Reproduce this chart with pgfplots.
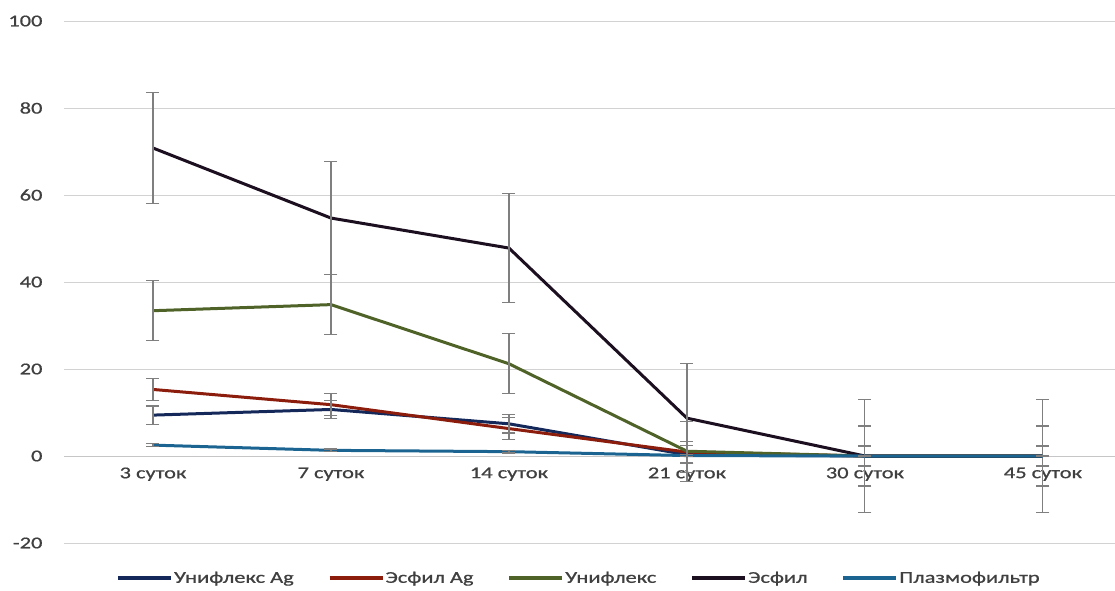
\documentclass[border=0pt]{standalone}
\usepackage{pgfplots}
\pgfplotsset{compat=1.18}
\usepackage{pgfplotstable}
\usepackage{fontspec}
\setmainfont{Carlito}[FakeStretch=1.36, FakeBold=0.8]
\definecolor{cUAg}{HTML}{14285A}
\definecolor{cEAg}{HTML}{8C1C0C}
\definecolor{cU}{HTML}{4F6228}
\definecolor{cE}{HTML}{1C0F1F}
\definecolor{cP}{HTML}{1B6491}
\definecolor{txt}{HTML}{404040}
\definecolor{errc}{HTML}{7F7F7F}

\pgfplotstableread{
x y e
0 9.4 2.1
1 10.7 2.1
2 7.4 2.1
3 0.3 2.1
4 0 2.1
5 0 2.1
}\tUAg
\pgfplotstableread{
x y e
0 15.3 2.5
1 11.8 2.5
2 6.3 2.5
3 0.9 2.5
4 0 2.5
5 0 2.5
}\tEAg
\pgfplotstableread{
x y e
0 33.4 6.9
1 34.8 6.9
2 21.2 6.9
3 1.1 6.9
4 0 6.9
5 0 6.9
}\tU
\pgfplotstableread{
x y e
0 70.8 12.8
1 54.7 13.0
2 47.8 12.6
3 8.7 12.5
4 0 12.9
5 0 12.9
}\tE
\pgfplotstableread{
x y e
0 2.5 0.3
1 1.3 0.3
2 1.0 0.3
3 0.1 0.2
4 0 0.2
5 0 0.2
}\tP

\pgfplotsset{
  ser/.style={color=#1, line width=3pt, mark=none,
    error bars/.cd, y dir=both, y explicit,
    error bar style={color=errc, line width=1.1pt},
    error mark options={color=errc, line width=1.1pt, mark size=6.5pt, rotate=90}},
}

\begin{document}
\begin{tikzpicture}
\begin{axis}[
  scale only axis,
  width=1051pt, height=522pt,
  xmin=-0.5, xmax=5.405,
  ymin=-20, ymax=100,
  ytick={-20,0,20,40,60,80,100},
  xtick={0,1,2,3,4,5},
  xticklabels={3 суток,7 суток,14 суток,21 суток,30 суток,45 суток},
  axis x line*=middle,
  axis y line*=left,
  hide obscured x ticks=false,
  hide obscured y ticks=false,
  x axis line style={draw=gray!45, line width=0.8pt, -},
  y axis line style={draw=none},
  major tick length=0pt,
  ymajorgrids,
  major grid style={draw=gray!35, line width=0.8pt},
  /pgf/number format/assume math mode=true,
  tick label style={font=\fontsize{16.5}{19}\selectfont, text=txt},
  yticklabel style={anchor=east, xshift=-18pt},
  xticklabel style={anchor=north, yshift=-8pt},
  clip=false,
  legend columns=5,
  legend style={at={(0.5,0)}, anchor=center, yshift=-35pt, xshift=-11pt,
    draw=none, fill=none, font=\fontsize{16.5}{19}\selectfont, text=txt,
    nodes={inner sep=1pt},
    /tikz/every even column/.append style={column sep=33pt}},
  legend image code/.code={\draw[#1, line width=3.8pt] (0pt,0pt) -- (53pt,0pt);},
]
\addplot[ser=cUAg] table[x=x, y=y, y error=e] {\tUAg};
\addlegendentry{Унифлекс Ag}
\addplot[ser=cEAg] table[x=x, y=y, y error=e] {\tEAg};
\addlegendentry{Эсфил Ag}
\addplot[ser=cU] table[x=x, y=y, y error=e] {\tU};
\addlegendentry{Унифлекс}
\addplot[ser=cE] table[x=x, y=y, y error=e] {\tE};
\addlegendentry{Эсфил}
\addplot[ser=cP] table[x=x, y=y, y error=e] {\tP};
\addlegendentry{Плазмофильтр}
\end{axis}
\pgfresetboundingbox
\path[use as bounding box] ([xshift=-64pt,yshift=-47pt]current axis.south west) rectangle ([yshift=21pt]current axis.north east);
\end{tikzpicture}
\end{document}
